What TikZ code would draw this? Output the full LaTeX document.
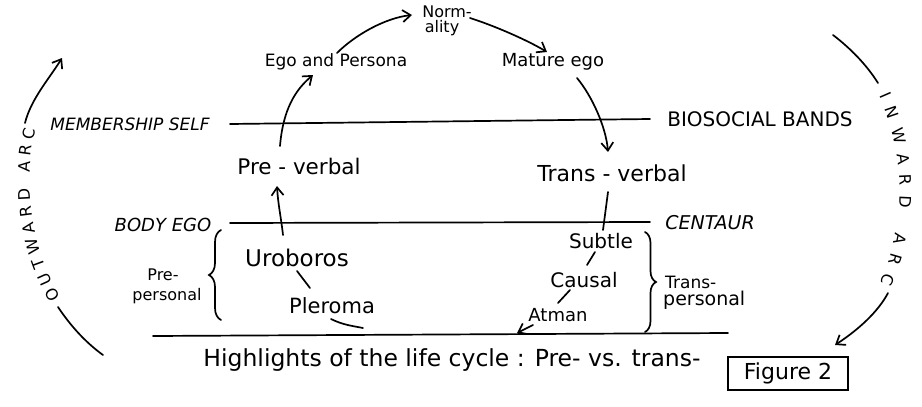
\documentclass[tikz,border=0pt]{standalone}
\usepackage{fontspec}
\setmainfont{DejaVu Sans}
\usetikzlibrary{arrows.meta,calc,decorations.pathreplacing,decorations.text}
\newcommand\fsz[1]{\fontsize{#1}{#1}\selectfont}
\begin{document}
\begin{tikzpicture}[x=1pt,y=-1pt,
  lbl/.style={inner sep=0pt, anchor=base},
  stroke/.style={line width=1.7pt, line cap=round},
  arr/.style={stroke, -{Straight Barb[length=8pt,width=12pt]}},
  bracestyle/.style={stroke, decorate, decoration={brace, amplitude=#1}},
  ]
\fill[white] (0,0) rectangle (922,407);
\useasboundingbox (0,0) rectangle (922,407);

% labels
\node[lbl,font=\fsz{16}] (norma) at (447,17) {Norm-};
\node[lbl,font=\fsz{16}] (normb) at (442,32.5) {ality};
\node[lbl,font=\fsz{17}] (ego) at (336,66) {Ego and Persona};
\node[lbl,font=\fsz{18}] (mat) at (553,66) {Mature ego};
\node[lbl,font=\fsz{17}\itshape] (mem) at (130,130) {MEMBERSHIP SELF};
\node[lbl,font=\fsz{20}] (bio) at (760,126) {BIOSOCIAL BANDS};
\node[lbl,font=\fsz{21.5}] (pv) at (299,174) {Pre - verbal};
\node[lbl,font=\fsz{22}] (tv) at (612,181) {Trans - verbal};
\node[lbl,font=\fsz{18}\itshape] (body) at (163,231) {BODY EGO};
\node[lbl,font=\fsz{19}\itshape] (cen) at (710,229) {CENTAUR};
\node[lbl,font=\fsz{23}] (uro) at (297,266) {Uroboros};
\node[lbl,font=\fsz{21}] (ple) at (332,313) {Pleroma};
\node[lbl,font=\fsz{16}] (prea) at (163,280) {Pre-};
\node[lbl,font=\fsz{16}] (preb) at (167,300) {personal};
\node[lbl,font=\fsz{20}] (sub) at (601,248) {Subtle};
\node[lbl,font=\fsz{20}] (cau) at (584,287) {Causal};
\node[lbl,font=\fsz{18}] (atm) at (558,321) {Atman};
\node[lbl,font=\fsz{17},anchor=base west] (tra) at (665,288) {Trans-};
\node[lbl,font=\fsz{19},anchor=base west] (trb) at (663,305) {personal};
\node[lbl,font=\fsz{23.5}] (cap) at (452,366) {Highlights of the life cycle : Pre- vs. trans-};
\node[draw, line width=1.5pt, minimum width=120pt, minimum height=33pt, inner sep=0pt, font=\fsz{22}] (fig) at (788,373.5) {Figure 2};

% band lines
\draw[stroke] (230,124) -- (650,119);
\draw[stroke] (230,223) -- (650,222);
\draw[stroke] (153,336) -- (728,333);

% braces
\draw[bracestyle=12pt] (221,320) -- (221,230);
\draw[bracestyle=11pt] (645,232) -- (645,332);

% outer arcs
\coordinate (oa1) at (25,123); \coordinate (oa2) at (62,58);
\draw[arr] (oa1) .. controls (31,99) and (49,79) .. (oa2);
\coordinate (ob1) at (58,307); \coordinate (ob2) at (103,355);
\draw[stroke] (ob1) .. controls (70,325) and (85,342) .. (ob2);
\coordinate (ia1) at (833,35); \coordinate (ia2) at (878,83);
\draw[stroke] (ia1) .. controls (850,48) and (866,64) .. (ia2);
\coordinate (ib1) at (888,293); \coordinate (ib2) at (835,345);
\draw[arr] (ib1) .. controls (878,312) and (858,330) .. (ib2);

\path[decorate, decoration={text along path, text={|\fsz{16}|OUTWARD ARC}, text align={fit to path}}]
  (261.5,181.8) ++(150:232) arc[start angle=150, end angle=193, radius=232];
\path[decorate, decoration={text along path, text={|\fsz{16}|INWARD ARC}, text align={fit to path}}]
  (663.5,191) ++(-24:236) arc[start angle=-24, end angle=23, radius=236];

% cycle connectors
\draw[arr] ($(pv.base)+(-19,-28)$) .. controls +(3,-36) and +(-18,15) .. ($(ego.base)+(-23,9)$);
\draw[arr] ($(ego.base)+(1,-13)$) .. controls +(18,-18) and +(-27,3) .. ($(norma.base)+(-35,-2)$);
\draw[arr] ($(norma.base)+(23,1)$) .. controls +(25,8) and +(-20,-12) .. ($(mat.base)+(-6,-14)$);
\draw[arr] ($(mat.base)+(24,12)$) .. controls +(15,18) and +(-2,-25) .. ($(tv.base)+(-4,-29)$);
\draw[stroke] ($(tv.base)+(-4,11)$) -- ($(sub.base)+(2,-18)$);
\draw[arr] ($(uro.base)+(-14,-31)$) .. controls +(-2,-18) and +(1,18) .. ($(pv.base)+(-22,12)$);
\draw[stroke] ($(uro.base)+(0,5)$) -- ($(ple.base)+(-22,-25)$);
\draw[stroke] ($(ple.base)+(-1,6)$) .. controls +(12,6) and +(-10,-2) .. ($(ple.base)+(31,15)$);
\draw[stroke] ($(sub.base)+(-6,4)$) -- ($(cau.base)+(3,-22)$);
\draw[stroke] ($(cau.base)+(-14,3)$) -- ($(atm.base)+(0,-18)$);
\coordinate (atip) at (517,333);
\draw[arr] ($(atm.base)+(-25,4)$) -- (atip);
\end{tikzpicture}
\end{document}
